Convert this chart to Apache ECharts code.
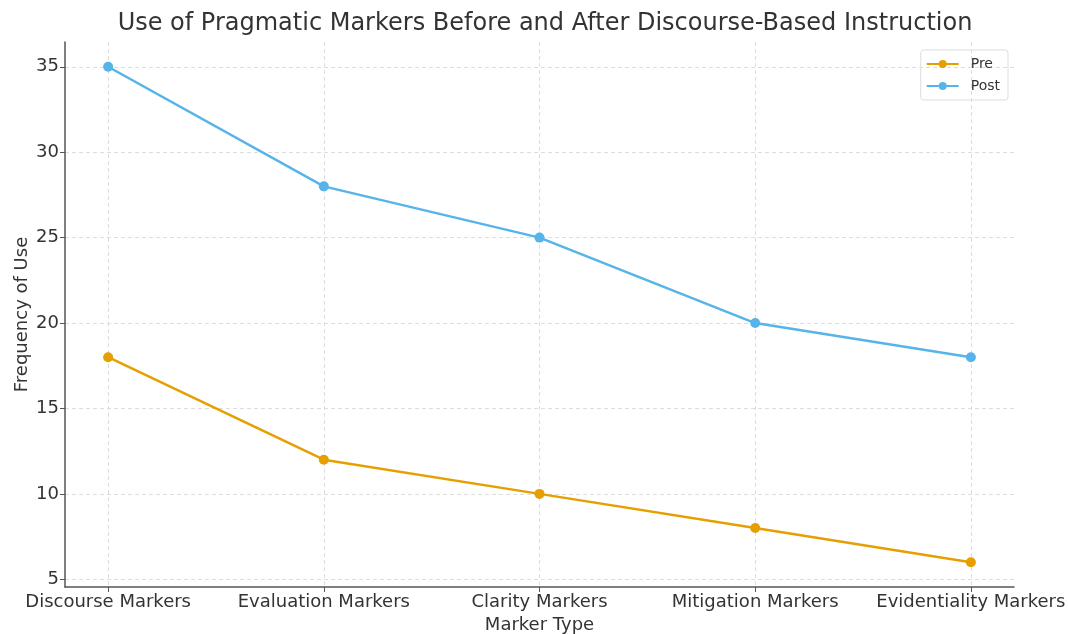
<!DOCTYPE html>
<html>
<head>
<meta charset="utf-8">
<script src="https://cdn.jsdelivr.net/npm/echarts@6/dist/echarts.min.js"></script>
<style>
  html, body { margin: 0; padding: 0; background: #fff; }
  #chart { width: 1068px; height: 634px; }
</style>
</head>
<body>
<div id="chart"></div>
<script>
// data
const categories = ['Discourse Markers', 'Evaluation Markers', 'Clarity Markers', 'Mitigation Markers', 'Evidentiality Markers'];
const preValues = [18, 12, 10, 8, 6];
const postValues = [35, 28, 25, 20, 18];
const yTicks = [5, 10, 15, 20, 25, 30, 35];
const xTicks = categories.map((c, i) => i);

const FONT = 'DejaVu Sans';

var dom = document.getElementById('chart');
var chart = echarts.init(dom, null, { renderer: 'canvas' });

let toPoints = (vals) => vals.map((v, i) => [i, v]);

var option = {
    animation: false,
    textStyle: { fontFamily: FONT },
    title: {
        text: 'Use of Pragmatic Markers Before and After Discourse-Based Instruction',
        left: 540,
        textAlign: 'center',
        top: 7,
        textStyle: { fontFamily: FONT, fontSize: 24, fontWeight: 'normal', color: '#333' }
    },
    legend: {
        orient: 'vertical',
        right: 60,
        top: 50,
        itemWidth: 32,
        itemHeight: 10,
        itemGap: 8,
        padding: [7, 8, 7, 5],
        borderColor: '#ddd',
        borderWidth: 1,
        borderRadius: 3,
        textStyle: { fontFamily: FONT, fontSize: 14, color: '#333', padding: [0, 0, 0, 7] },
        data: ['Pre', 'Post']
    },
    grid: { left: 65, right: 54, top: 42, bottom: 47, containLabel: false, outerBoundsMode: 'none' },
    xAxis: {
        type: 'value',
        min: -0.2,
        max: 4.2,
        name: 'Marker Type',
        nameLocation: 'middle',
        nameGap: 29,
        nameMoveOverlap: false,
        nameTextStyle: { fontFamily: FONT, fontSize: 18, color: '#333' },
        axisLine: { show: true, onZero: false, lineStyle: { color: '#555', width: 1.5 } },
        axisTick: { show: true, length: 5, customValues: xTicks, lineStyle: { color: '#555' } },
        axisLabel: {
            customValues: xTicks,
            margin: 6,
            fontFamily: FONT,
            fontSize: 18,
            color: '#333',
            formatter: (v) => categories[Math.round(v)]
        },
        splitLine: { show: true, lineStyle: { color: '#ddd', type: [4, 3], width: 1 } }
    },
    yAxis: {
        type: 'value',
        min: 4.55,
        max: 36.45,
        name: 'Frequency of Use',
        nameLocation: 'middle',
        nameGap: 34,
        nameMoveOverlap: false,
        nameTextStyle: { fontFamily: FONT, fontSize: 18, color: '#333' },
        axisLine: { show: true, onZero: false, lineStyle: { color: '#555', width: 1.5 } },
        axisTick: { show: true, length: 5, customValues: yTicks, lineStyle: { color: '#555' } },
        axisLabel: {
            customValues: yTicks,
            margin: 6,
            fontFamily: FONT,
            fontSize: 18,
            color: '#333'
        },
        splitLine: { show: true, lineStyle: { color: '#ddd', type: [4, 3], width: 1 } }
    },
    series: [
        {
            name: 'Pre',
            type: 'line',
            data: toPoints(preValues),
            color: '#E69F00',
            symbol: 'circle',
            symbolSize: 10,
            lineStyle: { width: 2.5 }
        },
        {
            name: 'Post',
            type: 'line',
            data: toPoints(postValues),
            color: '#56B4E9',
            symbol: 'circle',
            symbolSize: 10,
            lineStyle: { width: 2.5 }
        }
    ]
};

chart.setOption(option);
window.addEventListener('resize', chart.resize);
</script>
</body>
</html>
